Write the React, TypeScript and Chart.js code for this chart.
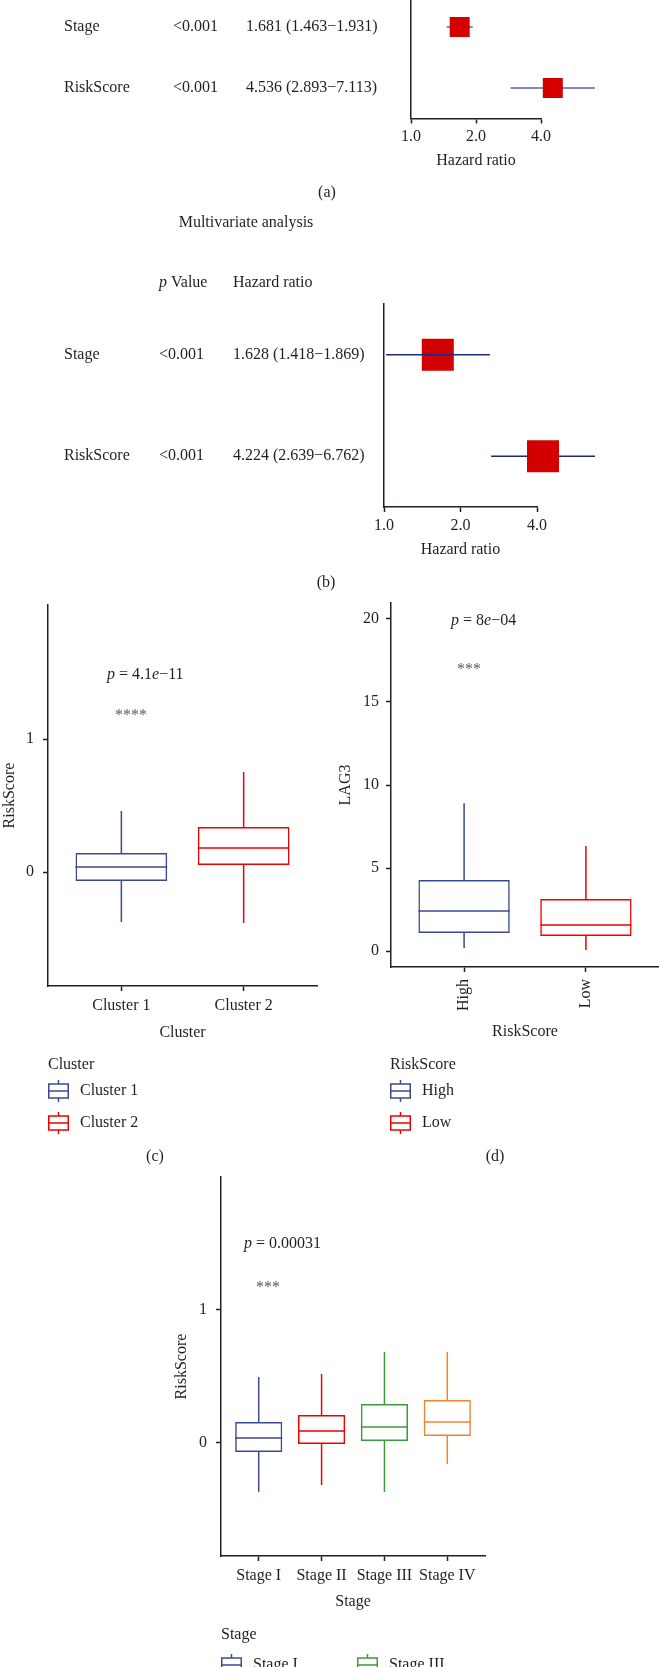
import React, { useEffect, useRef } from 'react';
import { Chart, registerables } from 'chart.js';

Chart.register(...registerables);

const FAMILY = '"Liberation Serif", "Times New Roman", serif';
const FS = 16;
const TEXT = '#231F20';
const AXIS = '#231F20';
const STAR = '#5A5A5A';
const HR_RED = '#D40000';

Chart.defaults.font.family = FAMILY;
Chart.defaults.font.size = FS;
Chart.defaults.color = TEXT;

// ---------------- (a) univariate forest ----------------
const uniRows = ['Stage', 'RiskScore'];
const uniP = ['<0.001', '<0.001'];
const uniHRText = ['1.681 (1.463\u22121.931)', '4.536 (2.893\u22127.113)'];
const uniHR = [1.681, 4.536];
const uniLow = [1.463, 2.893];
const uniHigh = [1.931, 7.113];

// ---------------- (b) multivariate forest ----------------
const multiRows = ['Stage', 'RiskScore'];
const multiP = ['<0.001', '<0.001'];
const multiHRText = ['1.628 (1.418\u22121.869)', '4.224 (2.639\u22126.762)'];
const multiHR = [1.628, 4.224];
const multiWhiskerLow = [1.02, 2.639];
const multiWhiskerHigh = [2.61, 6.762];

const hrTicks = [1, 2, 4];
const hrTickLabels = ['1.0', '2.0', '4.0'];

// ---------------- (c) RiskScore by cluster ----------------
const clusterCats = ['Cluster 1', 'Cluster 2'];
const clusterMin = [-0.376, -0.383];
const clusterQ1 = [-0.068, 0.053];
const clusterMed = [0.038, 0.18];
const clusterQ3 = [0.143, 0.338];
const clusterMax = [0.459, 0.752];

// ---------------- (d) LAG3 by RiskScore group ----------------
const lagCats = ['High', 'Low'];
const lagMin = [0.18, 0.06];
const lagQ1 = [1.08, 0.9];
const lagMed = [2.41, 1.57];
const lagQ3 = [4.28, 3.13];
const lagMax = [8.9, 6.33];
const lagTicks = [0, 5, 10, 15, 20];

// ---------------- (e) RiskScore by stage ----------------
const stageCats = ['Stage I', 'Stage II', 'Stage III', 'Stage IV'];
const stageMin = [-0.368, -0.316, -0.368, -0.158];
const stageQ1 = [-0.068, -0.008, 0.015, 0.053];
const stageMed = [0.038, 0.09, 0.12, 0.158];
const stageQ3 = [0.158, 0.21, 0.293, 0.323];
const stageMax = [0.496, 0.519, 0.684, 0.684];

const riskTicks = [0, 1];

const NAVY = '#3B4992';
const RED = '#EE0000';
const GREEN = '#3C9A3C';
const ORANGE = '#F5822F';

type Part = { t: string; i?: boolean };

function font(italic = false, size = FS) {
  return `${italic ? 'italic ' : ''}${size}px ${FAMILY}`;
}

function drawRich(ctx: any, parts: Part[], x: number, y: number, align: string = 'left', color: string = TEXT) {
  ctx.save();
  ctx.textBaseline = 'middle';
  ctx.textAlign = 'left';
  ctx.fillStyle = color;
  let total = 0;
  parts.forEach((p) => { ctx.font = font(p.i); total += ctx.measureText(p.t).width; });
  let cx = align === 'center' ? x - total / 2 : x;
  parts.forEach((p) => { ctx.font = font(p.i); ctx.fillText(p.t, cx, y); cx += ctx.measureText(p.t).width; });
  ctx.restore();
}

function drawIcon(ctx: any, x: number, y: number, color: string) {
  ctx.save();
  ctx.strokeStyle = color;
  ctx.lineWidth = 1.5;
  ctx.strokeRect(x + 0.75, y - 7, 19.5, 14);
  ctx.beginPath();
  ctx.moveTo(x, y); ctx.lineTo(x + 21, y);
  ctx.moveTo(x + 10.5, y - 11); ctx.lineTo(x + 10.5, y - 7);
  ctx.moveTo(x + 10.5, y + 7); ctx.lineTo(x + 10.5, y + 11);
  ctx.stroke();
  ctx.restore();
}

function forestConfig(s: any): any {
  const rowsIdx = s.rows.map((_: string, i: number) => i + 1);
  const datasets: any[] = rowsIdx.map((r: number, i: number) => ({
    label: s.rows[i] + ' CI',
    data: [{ x: s.lo[i], y: r }, { x: s.hi[i], y: r }],
    showLine: true,
    borderColor: s.whiskerColor,
    borderWidth: 1.5,
    pointRadius: 0,
    pointHoverRadius: 0,
    clip: false,
    order: s.whiskerOnTop[i] ? 0 : 2,
  }));
  datasets.push({
    label: 'Hazard ratio',
    data: rowsIdx.map((r: number, i: number) => ({ x: s.hr[i], y: r })),
    showLine: false,
    pointStyle: 'rect',
    pointRadius: s.boxSide / Math.SQRT2,
    pointHoverRadius: s.boxSide / Math.SQRT2,
    backgroundColor: HR_RED,
    borderColor: HR_RED,
    borderWidth: 0,
    pointBorderWidth: 0,
    clip: false,
    order: 1,
  });
  const plugin = {
    id: 'forestText',
    afterDraw(chart: any) {
      const ctx = chart.ctx;
      const ys = chart.scales.y;
      s.rows.forEach((name: string, i: number) => {
        const py = ys.getPixelForValue(i + 1);
        drawRich(ctx, [{ t: name }], s.cols[0], py);
        drawRich(ctx, [{ t: s.pvals[i] }], s.cols[1], py);
        drawRich(ctx, [{ t: s.hrText[i] }], s.cols[2], py);
      });
      if (s.header) {
        drawRich(ctx, [{ t: s.header.title }], s.header.titlePos[0], s.header.titlePos[1], 'center');
        drawRich(ctx, [{ t: 'p', i: true }, { t: ' Value' }], s.cols[1], s.header.y);
        drawRich(ctx, [{ t: 'Hazard ratio' }], s.cols[2], s.header.y);
      }
      drawRich(ctx, [{ t: s.panel }], s.panelPos[0], s.panelPos[1], 'center');
    },
  };
  return {
    type: 'scatter',
    data: { datasets },
    options: {
      responsive: false,
      animation: false,
      devicePixelRatio: 1,
      events: [],
      layout: { padding: s.pad, autoPadding: false },
      plugins: { legend: { display: false }, tooltip: { enabled: false } },
      scales: {
        x: {
          type: 'logarithmic',
          min: 1,
          max: 4,
          afterBuildTicks: (ax: any) => { ax.ticks = hrTicks.map((v) => ({ value: v })); },
          afterFit: (ax: any) => { ax.height = s.xAxisHeight; ax.paddingLeft = 0; ax.paddingRight = 0; },
          ticks: {
            callback: (_v: any, i: number) => hrTickLabels[i],
            padding: 4, color: TEXT, font: { size: FS }, autoSkip: false, maxRotation: 0, minRotation: 0,
          },
          grid: { display: true, drawOnChartArea: false, drawTicks: true, tickLength: 5, tickColor: AXIS, tickWidth: 1.5, color: AXIS },
          border: { display: true, color: AXIS, width: 1.5 },
          title: { display: true, text: 'Hazard ratio', padding: 0, color: TEXT, font: { size: FS } },
        },
        y: {
          type: 'linear',
          min: 0.5,
          max: s.rows.length + 0.5,
          reverse: true,
          ticks: { display: false },
          grid: { display: false },
          border: { display: true, color: AXIS, width: 1.5 },
          afterFit: (ax: any) => { ax.width = 0; ax.paddingTop = 0; ax.paddingBottom = 0; },
        },
      },
    },
    plugins: [plugin],
  };
}

function boxConfig(s: any): any {
  const xs = s.cats.map((_: string, i: number) => i + 1);
  const transparent = 'rgba(0,0,0,0)';
  const datasets: any[] = [
    {
      label: 'IQR',
      data: xs.map((x: number, i: number) => ({ x, y: [s.q1[i], s.q3[i]] })),
      backgroundColor: transparent,
      borderColor: s.colors,
      borderWidth: 1.5,
      borderSkipped: false,
      inflateAmount: 0,
      grouped: false,
      barPercentage: 0.75,
      categoryPercentage: 1,
      order: 0,
    },
    {
      label: 'upper whisker',
      data: xs.map((x: number, i: number) => ({ x, y: [s.q3[i], s.max[i]] })),
      backgroundColor: s.colors,
      borderWidth: 0,
      inflateAmount: 0,
      grouped: false,
      barThickness: 1.5,
      order: 1,
    },
    {
      label: 'lower whisker',
      data: xs.map((x: number, i: number) => ({ x, y: [s.min[i], s.q1[i]] })),
      backgroundColor: s.colors,
      borderWidth: 0,
      inflateAmount: 0,
      grouped: false,
      barThickness: 1.5,
      order: 1,
    },
  ];
  const plugin = {
    id: 'boxExtras',
    afterDatasetsDraw(chart: any) {
      const ctx = chart.ctx;
      const meta = chart.getDatasetMeta(0);
      const ys = chart.scales.y;
      ctx.save();
      ctx.lineWidth = 1.5;
      s.med.forEach((m: number, i: number) => {
        const el: any = meta.data[i];
        const py = ys.getPixelForValue(m);
        ctx.strokeStyle = s.colors[i];
        ctx.beginPath();
        ctx.moveTo(el.x - el.width / 2, py);
        ctx.lineTo(el.x + el.width / 2, py);
        ctx.stroke();
      });
      ctx.restore();
    },
    afterDraw(chart: any) {
      const ctx = chart.ctx;
      drawRich(ctx, s.pLabel, s.pPos[0], s.pPos[1]);
      ctx.save();
      ctx.font = font(false);
      ctx.fillStyle = STAR;
      ctx.textAlign = 'left';
      ctx.textBaseline = 'alphabetic';
      ctx.fillText(s.stars, s.starsPos[0], s.starsPos[1] + 8);
      ctx.restore();
      drawRich(ctx, [{ t: s.legendTitle }], s.legendPos[0], s.legendPos[1]);
      s.cats.forEach((c: string, i: number) => {
        const [ix, iy] = s.legendItems[i];
        drawIcon(ctx, ix, iy, s.colors[i]);
        drawRich(ctx, [{ t: c }], ix + 32, iy);
      });
      if (s.panel) drawRich(ctx, [{ t: s.panel }], s.panelPos[0], s.panelPos[1], 'center');
    },
  };
  return {
    type: 'bar',
    data: { datasets },
    options: {
      responsive: false,
      animation: false,
      devicePixelRatio: 1,
      events: [],
      layout: { padding: s.pad, autoPadding: false },
      plugins: { legend: { display: false }, tooltip: { enabled: false } },
      scales: {
        x: {
          type: 'linear',
          min: 0.4,
          max: s.cats.length + 0.6,
          offset: false,
          afterBuildTicks: (ax: any) => { ax.ticks = xs.map((v: number) => ({ value: v })); },
          afterFit: (ax: any) => { ax.height = s.xAxisHeight; ax.paddingLeft = 0; ax.paddingRight = 0; },
          ticks: {
            callback: (v: any) => s.cats[Math.round(v) - 1] ?? '',
            padding: s.xTickPad, color: TEXT, font: { size: FS }, autoSkip: false,
            maxRotation: s.xRot, minRotation: s.xRot,
          },
          grid: { display: true, offset: false, drawOnChartArea: false, drawTicks: true, tickLength: 5, tickColor: AXIS, tickWidth: 1.5, color: AXIS },
          border: { display: true, color: AXIS, width: 1.5 },
          title: { display: true, text: s.xTitle, padding: 0, color: TEXT, font: { size: FS } },
        },
        y: {
          type: 'linear',
          min: s.yMin,
          max: s.yMax,
          afterBuildTicks: (ax: any) => { ax.ticks = s.yTicks.map((v: number) => ({ value: v })); },
          afterFit: (ax: any) => { ax.width = s.yAxisWidth; ax.paddingTop = 0; ax.paddingBottom = 0; },
          ticks: { callback: (v: any) => String(v), padding: s.yTickPad, color: TEXT, font: { size: FS }, autoSkip: false },
          grid: { display: true, drawOnChartArea: false, drawTicks: true, tickLength: 5, tickColor: AXIS, tickWidth: 1.5, color: AXIS },
          border: { display: true, color: AXIS, width: 1.5 },
          title: { display: true, text: s.yTitle, padding: 0, color: TEXT, font: { size: FS } },
        },
      },
    },
    plugins: [plugin],
  };
}

const cfgA = () => forestConfig({
  rows: uniRows, pvals: uniP, hrText: uniHRText, hr: uniHR, lo: uniLow, hi: uniHigh,
  whiskerColor: '#5565A3', boxSide: 20, whiskerOnTop: [false, false],
  pad: { left: 411, right: 118, top: 6.5, bottom: 39.5 }, xAxisHeight: 52,
  cols: [64, 173, 246], panel: '(a)', panelPos: [327, 203],
});

const cfgB = () => forestConfig({
  rows: multiRows, pvals: multiP, hrText: multiHRText, hr: multiHR, lo: multiWhiskerLow, hi: multiWhiskerHigh,
  whiskerColor: '#1B2A7A', boxSide: 32, whiskerOnTop: [true, false],
  pad: { left: 384, right: 122, top: 104, bottom: 41 }, xAxisHeight: 52,
  cols: [64, 159, 233], panel: '(b)', panelPos: [326, 383],
  header: { title: 'Multivariate analysis', titlePos: [246, 23], y: 83 },
});

const cfgC = () => boxConfig({
  cats: clusterCats, min: clusterMin, q1: clusterQ1, med: clusterMed, q3: clusterQ3, max: clusterMax,
  colors: [NAVY, RED], yMin: -0.857, yMax: 2.008, yTicks: riskTicks, yTitle: 'RiskScore', xTitle: 'Cluster',
  pad: { left: 0, right: 13, top: 15, bottom: 128 }, yAxisWidth: 48, xAxisHeight: 56, yTickPad: 9, xTickPad: 5, xRot: 0,
  pLabel: [{ t: 'p', i: true }, { t: ' = 4.1' }, { t: 'e', i: true }, { t: '\u221211' }], pPos: [107, 85],
  stars: '****', starsPos: [115, 122],
  legendTitle: 'Cluster', legendPos: [48, 475], legendItems: [[48, 501], [48, 533]],
  panel: '(c)', panelPos: [155, 567],
});

const cfgD = () => boxConfig({
  cats: lagCats, min: lagMin, q1: lagQ1, med: lagMed, q3: lagQ3, max: lagMax,
  colors: [NAVY, RED], yMin: -0.96, yMax: 20.96, yTicks: lagTicks, yTitle: 'LAG3', xTitle: 'RiskScore',
  pad: { left: 6, right: 0, top: 13, bottom: 129 }, yAxisWidth: 55, xAxisHeight: 74, yTickPad: 7, xTickPad: 7, xRot: 90,
  pLabel: [{ t: 'p', i: true }, { t: ' = 8' }, { t: 'e', i: true }, { t: '\u221204' }], pPos: [121, 31],
  stars: '***', starsPos: [127, 76],
  legendTitle: 'RiskScore', legendPos: [60, 475], legendItems: [[60, 501], [60, 533]],
  panel: '(d)', panelPos: [165, 567],
});

const cfgE = () => boxConfig({
  cats: stageCats, min: stageMin, q1: stageQ1, med: stageMed, q3: stageQ3, max: stageMax,
  colors: [NAVY, RED, GREEN, ORANGE], yMin: -0.85, yMax: 2.0, yTicks: riskTicks, yTitle: 'RiskScore', xTitle: 'Stage',
  pad: { left: 22, right: 15, top: 17, bottom: 56 }, yAxisWidth: 49, xAxisHeight: 55, yTickPad: 9, xTickPad: 5, xRot: 0,
  pLabel: [{ t: 'p', i: true }, { t: ' = 0.00031' }], pPos: [94, 84],
  stars: '***', starsPos: [106, 124],
  legendTitle: 'Stage', legendPos: [71, 475], legendItems: [[71, 505], [71, 537], [207, 505], [207, 537]],
  panel: '', panelPos: [0, 0],
});

const panels = [
  { key: 'a', left: 0, top: -10, w: 659, h: 220, cfg: cfgA },
  { key: 'b', left: 0, top: 200, w: 659, h: 400, cfg: cfgB },
  { key: 'c', left: 0, top: 590, w: 330, h: 580, cfg: cfgC },
  { key: 'd', left: 330, top: 590, w: 329, h: 580, cfg: cfgD },
  { key: 'e', left: 150, top: 1160, w: 350, h: 507, cfg: cfgE },
];

export default function App() {
  const refs = useRef<(HTMLCanvasElement | null)[]>([]);
  useEffect(() => {
    const charts = panels.map((p, i) => new Chart(refs.current[i] as HTMLCanvasElement, p.cfg()));
    return () => charts.forEach((c) => c.destroy());
  }, []);
  return (
    <div style={{ position: 'absolute', left: 0, top: 0, width: 659, height: 1667, overflow: 'hidden', background: '#ffffff' }}>
      {panels.map((p, i) => (
        <canvas
          key={p.key}
          ref={(el) => { refs.current[i] = el; }}
          width={p.w}
          height={p.h}
          style={{ position: 'absolute', left: p.left, top: p.top, width: p.w, height: p.h }}
        />
      ))}
    </div>
  );
}
